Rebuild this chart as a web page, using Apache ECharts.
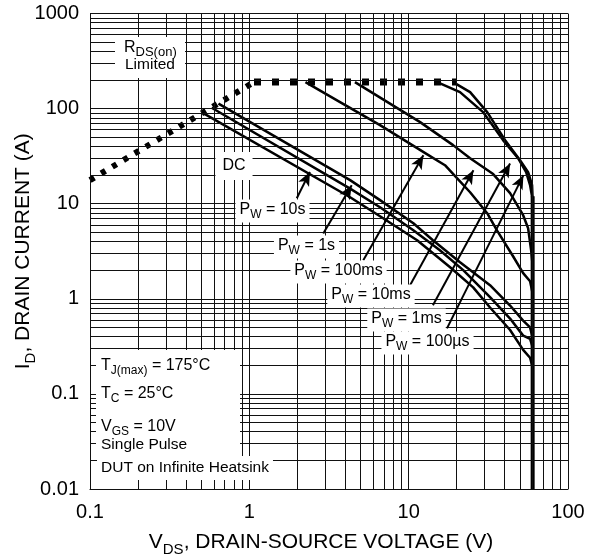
<!DOCTYPE html>
<html><head><meta charset="utf-8">
<script src="https://cdn.jsdelivr.net/npm/echarts@6/dist/echarts.min.js"></script>
<style>html,body{margin:0;padding:0;background:#fff}#c{width:595px;height:557px}</style>
</head><body><div id="c"></div>
<script>
// ---------------- data (V in volts, I in amperes) ----------------
const xTickLabels = ['0.1', '1', '10', '100'];
const yTickLabels = ['0.01', '0.1', '1', '10', '100', '1000'];
const gridX = [0.1,0.2,0.3,0.4,0.5,0.6,0.7,0.8,0.9,1,2,3,4,5,6,7,8,9,10,20,30,40,50,60,70,80,90,100];
const gridY = [0.01,0.02,0.03,0.04,0.05,0.06,0.07,0.08,0.09,0.1,0.2,0.3,0.4,0.5,0.6,0.7,0.8,0.9,1,2,3,4,5,6,7,8,9,10,20,30,40,50,60,70,80,90,100,200,300,400,500,600,700,800,900,1000];

const rdsLimitSlope = [[0.1, 17.7], [1.07, 190]];
const rdsLimitFlat  = [[1.07, 190], [20, 190]];
const curveDC    = [[0.51,90],[4.29,11.7],[6.61,7.39],[11.3,4.13],[18.2,2.15],[25.4,1.32],[32.4,0.81],[43.3,0.47],[52.3,0.29],[57.8,0.24],[60,0.19]];
const curve10s   = [[0.58,102],[4.29,14.4],[6.61,9.19],[10.7,5.26],[15.7,3.24],[22,2.0],[32.4,1.04],[43.3,0.62],[52.3,0.41],[57.8,0.38],[60,0.31]];
const curve1s    = [[0.64,113],[4.29,17.7],[6.61,10.9],[10.7,6.23],[14.2,4.13],[21,2.42],[32.4,1.39],[43.3,0.85],[52.3,0.59],[57.8,0.5],[60,0.39]];
const curve100ms = [[2.25,190],[3.71,117],[6.61,67],[12.7,34],[16.9,25.4],[20.1,18.6],[24.3,13.2],[31.1,7.94],[35.9,5.2],[45.2,2.8],[52.3,1.86],[57.8,1.53],[60,1.14]];
const curve10ms  = [[4.6,190],[11.8,72.1],[19,41.3],[24.3,30.1],[33.9,20.5],[43.3,12.9],[52.3,7.57],[56.2,5.52],[58.7,3.24],[60,2.25]];
const curve1ms   = [[15.1,190],[21,149],[29.3,91.9],[39.1,46.6],[48.6,30.1],[54.6,21.5],[57.8,15.7],[60,10.9]];
const curve100us = [[19,190],[24.3,149],[31.1,91.9],[40.3,46.6],[50,28.7],[56.2,21.5],[59.5,15.7],[60,10.9]];
const breakdown  = [[60, 12], [60, 0.01]];

// arrows: [from, to] in data units
const arrows = [
  [[1.985, 11.4], [2.40, 21.6]],
  [[2.91, 4.86], [4.39, 15.65]],
  [[5.19, 2.54], [12.37, 32.4]],
  [[10.2, 1.39], [25.5, 22.5]],
  [[14.2, 0.854], [43.3, 26.5]],
  [[17.4, 0.489], [52.5, 19.95]]
];

// ---------------- chart ----------------
const FONT = '"Liberation Sans", Arial, sans-serif';
const chart = echarts.init(document.getElementById('c'));

function curve(name, data) {
  return { name, type: 'line', data, showSymbol: false, symbol: 'none', smooth: false,
    lineStyle: { color: '#000', width: 2.5, join: 'round' }, z: 3, silent: true };
}
const richAnn = {
  a: { fontSize: 16, fontFamily: FONT, verticalAlign: 'top', fill: '#000' },
  b: { fontSize: 12, fontFamily: FONT, verticalAlign: 'bottom', padding: [7, 0, 0, 0], fill: '#000' }
};
function ann(x, y, text, align) {
  return { type: 'text', x, y, z: 100, silent: true,
    style: { text, rich: richAnn, fontSize: 16, fontFamily: FONT, fill: '#000', align: align || 'center', verticalAlign: 'middle',
      backgroundColor: '#fff', padding: [2, 4] } };
}
function plain(x, y, text, size, align, bg, pad) {
  return { type: 'text', x, y, z: 100, silent: true,
    style: { text, fontSize: size, fontFamily: FONT, fill: '#000', align: align || 'left', verticalAlign: 'middle',
      backgroundColor: bg || null, padding: pad || 0 } };
}

const axisRich = {
  t: { fontSize: 21, fontFamily: FONT, color: '#000', verticalAlign: 'top' },
  s: { fontSize: 15, fontFamily: FONT, color: '#000', verticalAlign: 'bottom', padding: [10, 0, 0, 0] }
};

const option = {
  animation: false,
  backgroundColor: '#fff',
  grid: { left: 90, top: 13.5, width: 478, height: 475.5, show: false, containLabel: false, outerBoundsMode: 'none' },
  xAxis: {
    type: 'log', logBase: 10, min: 0.1, max: 100,
    axisLine: { show: true, lineStyle: { color: '#000', width: 1 } },
    axisTick: { show: false }, splitLine: { show: false }, minorTick: { show: false },
    axisLabel: { color: '#000', fontSize: 20, fontFamily: FONT, margin: 13,
      formatter: v => xTickLabels[Math.round(Math.log10(v)) + 1] },
    name: '{t|V}{s|DS}{t|, DRAIN-SOURCE VOLTAGE (V)}', nameLocation: 'middle', nameGap: 43,
    nameMoveOverlap: false,
    nameTextStyle: { rich: axisRich, padding: [0, 16, 0, 0] }
  },
  yAxis: {
    type: 'log', logBase: 10, min: 0.01, max: 1000,
    axisLine: { show: true, lineStyle: { color: '#000', width: 1 } },
    axisTick: { show: false }, splitLine: { show: false }, minorTick: { show: false },
    axisLabel: { color: '#000', fontSize: 20, fontFamily: FONT, margin: 11,
      formatter: v => yTickLabels[Math.round(Math.log10(v)) + 2] },
    name: '{t|I}{s|D}{t|, DRAIN CURRENT (A)}', nameLocation: 'middle', nameGap: 52,
    nameMoveOverlap: false,
    nameTextStyle: { rich: axisRich }
  },
  series: [
    { type: 'line', data: [], z: 1, silent: true,
      markLine: { silent: true, symbol: ['none', 'none'], animation: false, label: { show: false },
        lineStyle: { color: '#111', width: 1, type: 'solid' }, emphasis: { disabled: true },
        data: gridX.map(v => ({ xAxis: v })).concat(gridY.map(v => ({ yAxis: v }))) } },
    { type: 'line', data: rdsLimitSlope, showSymbol: false, symbol: 'none', z: 3, silent: true,
      lineStyle: { color: '#000', width: 6, type: [5, 8], cap: 'butt' } },
    { type: 'line', data: rdsLimitFlat, showSymbol: false, symbol: 'none', z: 3, silent: true,
      lineStyle: { color: '#000', width: 7, type: [7, 11], cap: 'butt' } },
    curve('DC', curveDC),
    curve('10s', curve10s),
    curve('1s', curve1s),
    curve('100ms', curve100ms),
    curve('10ms', curve10ms),
    curve('1ms', curve1ms),
    curve('100us', curve100us),
    { type: 'line', data: breakdown, showSymbol: false, symbol: 'none', z: 3, silent: true,
      lineStyle: { color: '#000', width: 4 } },
    { type: 'line', data: [], z: 4, silent: true,
      markLine: { silent: true, symbol: ['none', 'arrow'], symbolSize: [9, 14], animation: false,
        label: { show: false }, lineStyle: { color: '#000', width: 2, type: 'solid' }, emphasis: { disabled: true },
        data: arrows.map(a => [{ coord: a[0] }, { coord: a[1] }]) } }
  ],
  graphic: [
    { type: 'rect', z: 90, silent: true, shape: { x: 115, y: 37, width: 70, height: 41 }, style: { fill: '#fff' } },
    { type: 'text', x: 124, y: 40, z: 100, silent: true,
      style: { text: '{a|R}{b|DS(on)}', rich: {
        a: { fontSize: 16, fontFamily: FONT, verticalAlign: 'top', fill: '#000' },
        b: { fontSize: 13, fontFamily: FONT, verticalAlign: 'bottom', padding: [6, 0, 0, 0], fill: '#000' } },
        fill: '#000', align: 'left', verticalAlign: 'top' } },
    plain(125, 65, 'Limited', 15.5, 'left'),
    plain(234, 166, 'DC', 16, 'center', '#fff', [6, 7]),
    ann(272.5, 211, '{a|P}{b|W}{a| = 10s}'),
    ann(306.5, 247, '{a|P}{b|W}{a| = 1s}'),
    ann(338.5, 272, '{a|P}{b|W}{a| = 100ms}'),
    ann(371, 296, '{a|P}{b|W}{a| = 10ms}'),
    ann(406.5, 320, '{a|P}{b|W}{a| = 1ms}'),
    ann(427.5, 343, '{a|P}{b|W}{a| = 100\u00b5s}'),
    { type: 'rect', z: 90, silent: true, shape: { x: 96, y: 350, width: 144, height: 110 }, style: { fill: '#fff' } },
    ann(97, 367, '{a|T}{b|J(max)}{a| = 175\u00b0C}', 'left'),
    ann(97, 395, '{a|T}{b|C}{a| = 25\u00b0C}', 'left'),
    ann(97, 428, '{a|V}{b|GS}{a| = 10V}', 'left'),
    plain(101, 445, 'Single Pulse', 15.5, 'left'),
    plain(97, 468, 'DUT on Infinite Heatsink', 15.5, 'left', '#fff', [4, 4])
  ]
};
chart.setOption(option);
</script>
</body></html>
